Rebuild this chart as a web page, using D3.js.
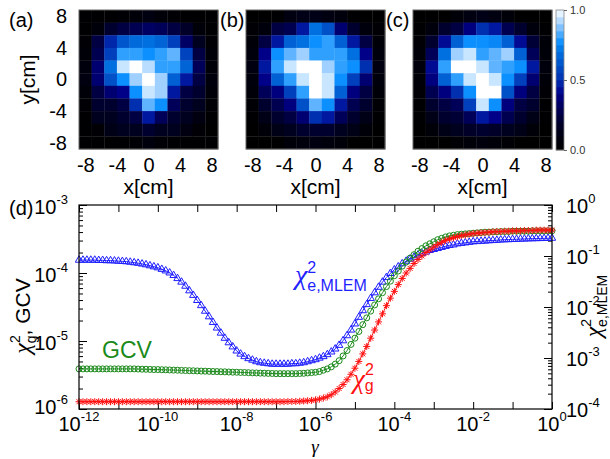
<!DOCTYPE html>
<html><head><meta charset="utf-8">
<script src="https://cdn.jsdelivr.net/npm/d3@7"></script>
<style>
body{margin:0;background:#fff;}
svg{display:block;font-family:"Liberation Sans",Arial,Helvetica,sans-serif;}
.gk{font-family:"Liberation Serif","DejaVu Serif",serif;font-style:italic;}
</style>
</head><body>
<svg id="c" width="610" height="459"></svg>
<script>
// ---------------- DATA ----------------
// pixel centres of the 11x11 reconstructed images (cm)
const cellCentersCm = [-8, -6.4, -4.8, -3.2, -1.6, 0, 1.6, 3.2, 4.8, 6.4, 8];
const xTicksCm = [-8, -4, 0, 4, 8];
const yTicksCm = [8, 4, 0, -4, -8];
// normalized intensities, rows from top (y=+8) to bottom (y=-8)
const imgA = [
 [0.02,0.02,0.02,0.03,0.05,0.10,0.05,0.03,0.02,0.02,0.02],
 [0.02,0.06,0.20,0.25,0.28,0.32,0.30,0.25,0.18,0.05,0.02],
 [0.03,0.25,0.48,0.62,0.68,0.70,0.66,0.55,0.32,0.15,0.03],
 [0.05,0.28,0.55,0.80,0.80,0.77,0.80,0.85,0.56,0.25,0.05],
 [0.08,0.35,0.70,0.95,1.00,0.93,0.80,0.80,0.66,0.30,0.05],
 [0.10,0.35,0.60,0.77,0.90,1.00,0.90,0.65,0.45,0.25,0.08],
 [0.05,0.25,0.35,0.40,0.77,0.95,0.90,0.45,0.25,0.20,0.05],
 [0.03,0.20,0.20,0.25,0.50,0.85,0.77,0.30,0.20,0.15,0.03],
 [0.02,0.15,0.15,0.20,0.25,0.45,0.30,0.20,0.15,0.10,0.02],
 [0.02,0.03,0.12,0.15,0.15,0.20,0.15,0.15,0.10,0.03,0.00],
 [0.02,0.02,0.02,0.02,0.03,0.08,0.03,0.02,0.02,0.02,0.02]
];
const imgB = [
 [0.00,0.00,0.02,0.10,0.12,0.12,0.10,0.08,0.02,0.00,0.00],
 [0.03,0.08,0.25,0.28,0.45,0.70,0.60,0.35,0.20,0.08,0.03],
 [0.05,0.25,0.45,0.65,0.70,0.77,0.80,0.65,0.45,0.25,0.05],
 [0.08,0.40,0.77,0.85,0.90,0.80,0.80,0.80,0.70,0.40,0.08],
 [0.10,0.45,0.80,0.95,1.00,1.00,0.90,0.80,0.77,0.50,0.10],
 [0.08,0.40,0.65,0.80,0.95,1.00,0.95,0.77,0.55,0.35,0.08],
 [0.05,0.30,0.38,0.55,0.80,1.00,0.95,0.65,0.38,0.25,0.05],
 [0.03,0.20,0.28,0.38,0.60,0.85,0.77,0.45,0.28,0.20,0.03],
 [0.02,0.12,0.20,0.25,0.35,0.50,0.45,0.30,0.20,0.12,0.02],
 [0.00,0.05,0.12,0.15,0.20,0.20,0.20,0.15,0.12,0.05,0.00],
 [0.00,0.00,0.00,0.05,0.08,0.10,0.08,0.05,0.00,0.00,0.00]
];
const imgC = [
 [0.00,0.00,0.00,0.05,0.10,0.12,0.10,0.05,0.00,0.00,0.00],
 [0.02,0.08,0.20,0.25,0.38,0.50,0.45,0.28,0.20,0.08,0.02],
 [0.03,0.20,0.42,0.65,0.77,0.77,0.75,0.65,0.42,0.22,0.05],
 [0.05,0.30,0.70,0.90,0.95,0.80,0.85,0.90,0.65,0.30,0.05],
 [0.08,0.42,0.80,1.00,1.00,0.95,0.85,0.80,0.77,0.45,0.08],
 [0.05,0.38,0.65,0.80,0.95,1.00,0.95,0.77,0.55,0.35,0.05],
 [0.03,0.28,0.38,0.50,0.77,1.00,1.00,0.60,0.38,0.25,0.03],
 [0.02,0.20,0.25,0.30,0.55,0.95,0.77,0.38,0.25,0.20,0.02],
 [0.02,0.12,0.20,0.22,0.30,0.45,0.40,0.28,0.20,0.12,0.02],
 [0.00,0.05,0.12,0.15,0.18,0.20,0.18,0.15,0.12,0.05,0.00],
 [0.00,0.00,0.00,0.03,0.05,0.08,0.05,0.03,0.00,0.00,0.00]
];
const cbarTicks = [0.0, 0.5, 1.0];
const cbarBands = 20;

// regularization parameter gamma, log10 grid
const gammaExp = [
 -12.0,-11.9,-11.8,-11.7,-11.6,-11.5,-11.4,-11.3,-11.2,-11.1,
 -11.0,-10.9,-10.8,-10.7,-10.6,-10.5,-10.4,-10.3,-10.2,-10.1,
 -10.0,-9.9,-9.8,-9.7,-9.6,-9.5,-9.4,-9.3,-9.2,-9.1,
 -9.0,-8.9,-8.8,-8.7,-8.6,-8.5,-8.4,-8.3,-8.2,-8.1,
 -8.0,-7.9,-7.8,-7.7,-7.6,-7.5,-7.4,-7.3,-7.2,-7.1,
 -7.0,-6.9,-6.8,-6.7,-6.6,-6.5,-6.4,-6.3,-6.2,-6.1,
 -6.0,-5.9,-5.8,-5.7,-5.6,-5.5,-5.4,-5.3,-5.2,-5.1,
 -5.0,-4.9,-4.8,-4.7,-4.6,-4.5,-4.4,-4.3,-4.2,-4.1,
 -4.0,-3.9,-3.8,-3.7,-3.6,-3.5,-3.4,-3.3,-3.2,-3.1,
 -3.0,-2.9,-2.8,-2.7,-2.6,-2.5,-2.4,-2.3,-2.2,-2.1,
 -2.0,-1.9,-1.8,-1.7,-1.6,-1.5,-1.4,-1.3,-1.2,-1.1,
 -1.0,-0.9,-0.8,-0.7,-0.6,-0.5,-0.4,-0.3,-0.2,-0.1,
 0.0];
// chi^2_e,MLEM (right axis)
const chiE = [
 0.0832,0.0832,0.0832,0.0832,0.0832,0.0822,0.0822,0.0813,0.0813,0.0804,
 0.0794,0.0785,0.0776,0.0759,0.0741,0.0724,0.0700,0.0676,0.0646,0.0617,
 0.0589,0.0550,0.0513,0.0468,0.0417,0.0363,0.0309,0.0257,0.0209,0.0170,
 0.0135,0.0107,0.00832,0.00646,0.00501,0.00389,0.00309,0.00245,0.00200,0.00166,
 0.00138,0.00120,0.00107,0.000977,0.000912,0.000851,0.000813,0.000794,0.000776,0.000759,
 0.000759,0.000759,0.000759,0.000759,0.000776,0.000776,0.000794,0.000813,0.000851,0.000891,
 0.000933,0.00100,0.00107,0.00117,0.00132,0.00151,0.00178,0.00219,0.00275,0.00355,
 0.00468,0.00631,0.00851,0.0112,0.0148,0.0191,0.0245,0.0309,0.0380,0.0457,
 0.0537,0.0617,0.0708,0.0794,0.0871,0.0955,0.105,0.112,0.120,0.129,
 0.135,0.141,0.148,0.155,0.162,0.166,0.174,0.178,0.182,0.186,
 0.191,0.193,0.195,0.197,0.200,0.202,0.204,0.207,0.209,0.210,
 0.212,0.213,0.215,0.216,0.218,0.219,0.220,0.221,0.222,0.223,
 0.224];
// GCV (left axis)
const gcv = [
 3.89e-6,3.89e-6,3.89e-6,3.89e-6,3.89e-6,3.89e-6,3.89e-6,3.89e-6,3.89e-6,3.89e-6,
 3.89e-6,3.89e-6,3.89e-6,3.89e-6,3.89e-6,3.87e-6,3.85e-6,3.84e-6,3.82e-6,3.80e-6,
 3.80e-6,3.78e-6,3.77e-6,3.75e-6,3.73e-6,3.72e-6,3.70e-6,3.68e-6,3.66e-6,3.65e-6,
 3.63e-6,3.61e-6,3.60e-6,3.58e-6,3.56e-6,3.55e-6,3.53e-6,3.52e-6,3.50e-6,3.48e-6,
 3.47e-6,3.45e-6,3.44e-6,3.42e-6,3.40e-6,3.39e-6,3.37e-6,3.36e-6,3.34e-6,3.33e-6,
 3.31e-6,3.31e-6,3.31e-6,3.31e-6,3.31e-6,3.31e-6,3.33e-6,3.35e-6,3.39e-6,3.43e-6,
 3.47e-6,3.55e-6,3.72e-6,3.89e-6,4.17e-6,4.57e-6,5.13e-6,6.03e-6,7.24e-6,8.91e-6,
 1.10e-5,1.38e-5,1.74e-5,2.19e-5,2.75e-5,3.39e-5,4.17e-5,5.13e-5,6.31e-5,7.59e-5,
 9.12e-5,1.07e-4,1.26e-4,1.45e-4,1.66e-4,1.86e-4,2.09e-4,2.29e-4,2.51e-4,2.69e-4,
 2.88e-4,3.09e-4,3.24e-4,3.39e-4,3.51e-4,3.59e-4,3.67e-4,3.72e-4,3.76e-4,3.80e-4,
 3.85e-4,3.89e-4,3.94e-4,3.98e-4,3.98e-4,4.03e-4,4.03e-4,4.07e-4,4.07e-4,4.07e-4,
 4.12e-4,4.12e-4,4.12e-4,4.12e-4,4.12e-4,4.17e-4,4.17e-4,4.17e-4,4.17e-4,4.17e-4,
 4.17e-4];
// chi^2_g (left axis)
const chiG = [
 1.28e-6,1.28e-6,1.28e-6,1.28e-6,1.28e-6,1.28e-6,1.28e-6,1.28e-6,1.28e-6,1.28e-6,
 1.28e-6,1.28e-6,1.28e-6,1.28e-6,1.28e-6,1.28e-6,1.28e-6,1.28e-6,1.28e-6,1.28e-6,
 1.28e-6,1.28e-6,1.28e-6,1.28e-6,1.28e-6,1.28e-6,1.28e-6,1.28e-6,1.28e-6,1.28e-6,
 1.28e-6,1.28e-6,1.28e-6,1.28e-6,1.28e-6,1.28e-6,1.28e-6,1.28e-6,1.28e-6,1.28e-6,
 1.28e-6,1.28e-6,1.28e-6,1.28e-6,1.28e-6,1.28e-6,1.28e-6,1.28e-6,1.28e-6,1.28e-6,
 1.28e-6,1.28e-6,1.28e-6,1.29e-6,1.29e-6,1.29e-6,1.30e-6,1.31e-6,1.32e-6,1.34e-6,
 1.36e-6,1.40e-6,1.45e-6,1.51e-6,1.62e-6,1.78e-6,2.00e-6,2.29e-6,2.69e-6,3.24e-6,
 3.98e-6,5.01e-6,6.46e-6,8.32e-6,1.10e-5,1.45e-5,1.91e-5,2.51e-5,3.31e-5,4.27e-5,
 5.37e-5,6.76e-5,8.32e-5,1.00e-4,1.17e-4,1.38e-4,1.58e-4,1.78e-4,2.00e-4,2.19e-4,
 2.40e-4,2.63e-4,2.82e-4,3.02e-4,3.16e-4,3.31e-4,3.43e-4,3.55e-4,3.63e-4,3.72e-4,
 3.80e-4,3.85e-4,3.89e-4,3.94e-4,3.98e-4,4.03e-4,4.07e-4,4.07e-4,4.12e-4,4.12e-4,
 4.17e-4,4.17e-4,4.17e-4,4.22e-4,4.22e-4,4.22e-4,4.27e-4,4.27e-4,4.27e-4,4.27e-4,
 4.27e-4];
const xTickExp = [-12,-11,-10,-9,-8,-7,-6,-5,-4,-3,-2,-1,0];
const xLabelExp = [-12,-10,-8,-6,-4,-2,0];
const yLeftExp = [-6,-5,-4,-3];
const yRightExp = [-4,-3,-2,-1,0];

// ---------------- DRAW ----------------
const svg = d3.select("#c");
const cmap = d3.scaleLinear()
  .domain([0,0.1,0.2,0.3,0.4,0.45,0.5,0.6,0.7,0.77,0.8,0.85,0.9,0.95,1])
  .range(["#000000","#000010","#00002e","#000058","#000088","#0018a0","#0030b0","#0050c8","#0070e0","#0c90ff","#30a0ff","#60b4ff","#a0d0ff","#c8e6ff","#ffffff"])
  .interpolate(d3.interpolateRgb).clamp(true);

const FONT = 20;
const panels = [
  {img: imgA, x0: 79,  label: "(a)", lx: 9,   showY: true},
  {img: imgB, x0: 246, label: "(b)", lx: 220, showY: false},
  {img: imgC, x0: 413, label: "(c)", lx: 386, showY: false}
];
const pw = 139, py0 = 10, ph = 139;
panels.forEach(p => {
  const xs = d3.scaleLinear().domain([-8.8, 8.8]).range([p.x0, p.x0 + pw]);
  const ys = d3.scaleLinear().domain([-8.8, 8.8]).range([py0 + ph, py0]);
  const g = svg.append("g");
  p.img.forEach((row, r) => row.forEach((v, c) => {
    const cx = cellCentersCm[c], cy = cellCentersCm[10 - r];
    g.append("rect")
      .attr("x", xs(cx - 0.8)).attr("y", ys(cy + 0.8))
      .attr("width", xs(cx + 0.8) - xs(cx - 0.8) + 0.3)
      .attr("height", ys(cy - 0.8) - ys(cy + 0.8) + 0.3)
      .attr("fill", cmap(v));
  }));
  g.append("rect").attr("x", p.x0).attr("y", py0).attr("width", pw).attr("height", ph)
    .attr("fill", "none").attr("stroke", "#666").attr("stroke-width", 1);
  const ax = svg.append("g").attr("transform", `translate(0,${py0 + ph})`)
    .call(d3.axisBottom(xs).tickValues(xTicksCm).tickSize(0).tickPadding(9).tickFormat(d => String(d)));
  ax.select(".domain").remove();
  ax.selectAll("text").attr("font-size", FONT).attr("fill", "#000").attr("font-family", "Liberation Sans, Arial, sans-serif");
  svg.append("text").attr("x", p.x0 + pw / 2).attr("y", 194).attr("text-anchor", "middle")
    .attr("font-size", 21).text("x[cm]");
  svg.append("text").attr("x", p.lx).attr("y", 27).attr("font-size", FONT).text(p.label);
  if (p.showY) {
    const ay = svg.append("g").attr("transform", `translate(${p.x0},0)`)
      .call(d3.axisLeft(ys).tickValues(yTicksCm).tickSize(0).tickPadding(12).tickFormat(d => String(d)));
    ay.select(".domain").remove();
    ay.selectAll("text").attr("font-size", FONT).attr("fill", "#000").attr("font-family", "Liberation Sans, Arial, sans-serif");
    svg.append("text").attr("transform", `translate(35,${py0 + ph / 2}) rotate(-90)`)
      .attr("text-anchor", "middle").attr("font-size", 21).text("y[cm]");
  }
});

// colorbar
const cb = {x: 556, y0: 10, y1: 150, w: 8};
const cs = d3.scaleLinear().domain([0, 1]).range([cb.y1, cb.y0]);
d3.range(cbarBands).forEach(i => {
  const lo = i / cbarBands, hi = (i + 1) / cbarBands;
  svg.append("rect").attr("x", cb.x).attr("y", cs(hi)).attr("width", cb.w)
    .attr("height", cs(lo) - cs(hi) + 0.3).attr("fill", cmap((lo + hi) / 2));
});
svg.append("rect").attr("x", cb.x).attr("y", cb.y0).attr("width", cb.w).attr("height", cb.y1 - cb.y0)
  .attr("fill", "none").attr("stroke", "#888").attr("stroke-width", 0.8);
const cax = svg.append("g").attr("transform", `translate(${cb.x + cb.w},0)`)
  .call(d3.axisRight(cs).tickValues(cbarTicks).tickSize(3).tickPadding(3).tickFormat(d3.format(".1f")));
cax.select(".domain").remove();
cax.selectAll("line").attr("stroke", "#666");
cax.selectAll("text").attr("font-size", 11).attr("fill", "#333").attr("font-family", "Liberation Sans, Arial, sans-serif");

// ---------------- bottom chart ----------------
const L = 79, R = 552, T = 205, B = 409;
const X = d3.scaleLog().domain([1e-12, 1]).range([L, R]);
const YL = d3.scaleLog().domain([1e-6, 1e-3]).range([B, T]);
const YR = d3.scaleLog().domain([1e-4, 1]).range([B, T]);
const pow10 = e => Math.pow(10, e);
const gamma = gammaExp.map(pow10);

function minors(exps) {
  const out = [];
  for (let i = 0; i < exps.length - 1; i++) for (let k = 2; k <= 9; k++) out.push(k * pow10(exps[i]));
  return out;
}
function tickGroup(axis, tx, ty) {
  const g = svg.append("g").attr("transform", `translate(${tx},${ty})`).call(axis);
  g.select(".domain").remove();
  g.selectAll("line").attr("stroke", "#000").attr("stroke-width", 1);
  g.selectAll("text").remove();
  return g;
}
tickGroup(d3.axisBottom(X).tickValues(xTickExp.map(pow10)).tickSize(-7), 0, B);
tickGroup(d3.axisTop(X).tickValues(xTickExp.map(pow10)).tickSize(-7), 0, T);
tickGroup(d3.axisLeft(YL).tickValues(yLeftExp.map(pow10)).tickSize(-8), L, 0);
tickGroup(d3.axisLeft(YL).tickValues(minors(yLeftExp)).tickSize(-4), L, 0);
tickGroup(d3.axisRight(YR).tickValues(yRightExp.map(pow10)).tickSize(-8), R, 0);
tickGroup(d3.axisRight(YR).tickValues(minors(yRightExp)).tickSize(-4), R, 0);

// curves
const BLUE = "#1f1fff", GREEN = "#1b8a1b", RED = "#ff1010";
const clipId = "pc";
svg.append("clipPath").attr("id", clipId).append("rect").attr("x", L - 4).attr("y", T - 4).attr("width", R - L + 8).attr("height", B - T + 8);
const plot = svg.append("g").attr("clip-path", `url(#${clipId})`);
function series(vals, ys, color, shape) {
  const pts = gamma.map((g, i) => [X(g), ys(vals[i])]);
  plot.append("path").attr("d", d3.line()(pts)).attr("fill", "none").attr("stroke", color).attr("stroke-width", 1);
  const sym = plot.append("g");
  pts.forEach(([x, y]) => {
    if (shape === "tri") {
      sym.append("path").attr("d", d3.symbol().type(d3.symbolTriangle).size(24)()).attr("transform", `translate(${x},${y})`)
        .attr("fill", "none").attr("stroke", color).attr("stroke-width", 1);
    } else if (shape === "circ") {
      sym.append("circle").attr("cx", x).attr("cy", y).attr("r", 3)
        .attr("fill", "none").attr("stroke", color).attr("stroke-width", 1);
    } else {
      sym.append("path").attr("d", "M-3.5,0H3.5M0,-3.5V3.5M-2.5,-2.5L2.5,2.5M-2.5,2.5L2.5,-2.5")
        .attr("transform", `translate(${x},${y})`).attr("fill", "none").attr("stroke", color).attr("stroke-width", 1);
    }
  });
}
series(chiE, YR, BLUE, "tri");
series(gcv, YL, GREEN, "circ");
series(chiG, YL, RED, "star");

svg.append("rect").attr("x", L).attr("y", T).attr("width", R - L).attr("height", B - T)
  .attr("fill", "none").attr("stroke", "#000").attr("stroke-width", 1.2);

// tick labels
function powLabel(x, y, e, anchor) {
  const t = svg.append("text").attr("x", x).attr("y", y).attr("text-anchor", anchor).attr("font-size", 20);
  t.append("tspan").text("10");
  t.append("tspan").attr("font-size", 13).attr("dy", -10).text(String(e));
  return t;
}
xLabelExp.forEach(e => powLabel(X(pow10(e)), 431, e, "middle"));
yLeftExp.forEach(e => powLabel(68, YL(pow10(e)) + (e === -6 ? 5 : 9), e, "end"));
yRightExp.forEach(e => powLabel(566, YR(pow10(e)) + 8, e, "start"));
svg.append("text").attr("x", 9).attr("y", 215).attr("font-size", FONT).text("(d)");

// axis titles
const lt = svg.append("text").attr("transform", "translate(30,316) rotate(-90)").attr("text-anchor", "middle").attr("font-size", 21);
lt.append("tspan").attr("class", "gk").attr("font-size", 24).text("χ");
lt.append("tspan").attr("font-size", 14).attr("dy", -10).text("2");
lt.append("tspan").attr("font-size", 14).attr("dx", -8).attr("dy", 16).text("g");
lt.append("tspan").attr("dy", -6).text(", GCV");

const rt = svg.append("text").attr("transform", "translate(601,306) rotate(-90)").attr("text-anchor", "middle").attr("font-size", 21);
rt.append("tspan").attr("class", "gk").attr("font-size", 24).text("χ");
rt.append("tspan").attr("font-size", 14).attr("dy", -10).text("2");
rt.append("tspan").attr("font-size", 14).attr("dx", -8).attr("dy", 16).text("e,MLEM");

svg.append("text").attr("class", "gk").attr("x", 315).attr("y", 453).attr("text-anchor", "middle").attr("font-size", 19)
  .text("γ");

// in-plot labels
const bl = svg.append("text").attr("x", 295).attr("y", 284).attr("font-size", 16).attr("fill", BLUE);
bl.append("tspan").attr("class", "gk").attr("font-size", 28).text("χ");
bl.append("tspan").attr("dy", -11).text("2");
bl.append("tspan").attr("dx", -9).attr("dy", 18).text("e,MLEM");

svg.append("text").attr("x", 102).attr("y", 358).attr("font-size", 23).attr("fill", GREEN).text("GCV");

const rl = svg.append("text").attr("x", 353).attr("y", 388).attr("font-size", 16).attr("fill", RED);
rl.append("tspan").attr("class", "gk").attr("font-size", 27).text("χ");
rl.append("tspan").attr("dy", -13).text("2");
rl.append("tspan").attr("dx", -9).attr("dy", 16).text("g");
</script>
</body></html>
